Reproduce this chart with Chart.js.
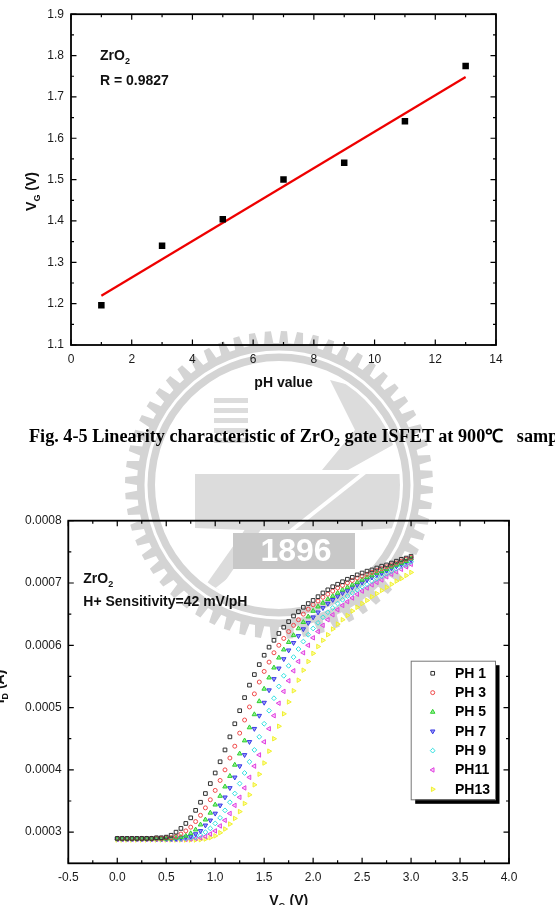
<!DOCTYPE html>
<html>
<head>
<meta charset="utf-8">
<script src="https://cdn.jsdelivr.net/npm/chart.js@4.4.1/dist/chart.umd.min.js"></script>
<style>
  body { margin: 0; background: #fff; width: 555px; height: 905px; overflow: hidden; position: relative; }
  canvas { position: absolute; left: 0; }
  #caption {
    position: absolute; left: 29px; top: 425.5px; white-space: nowrap;
    font: bold 18.2px/20px "Liberation Serif", "Times New Roman", serif; color: #000;
  }
  #caption sub { font-size: 12px; vertical-align: -4px; line-height: 0; }
</style>
</head>
<body>
<canvas id="seal" width="555" height="905" style="top:0"></canvas>
<canvas id="fitChart" width="555" height="400" style="top:0"></canvas>
<div id="caption">Fig. 4-5 Linearity characteristic of ZrO<sub>2</sub> gate ISFET at 900℃&nbsp;&nbsp; sample</div>
<canvas id="idChart" width="555" height="425" style="top:480px"></canvas>
<script>
// ---- top chart: VG vs pH ----
const phValues = [1, 3, 5, 7, 9, 11, 13];
const vgValues = [1.196, 1.340, 1.404, 1.500, 1.541, 1.641, 1.775];
const fitPh = [1, 13];
const fitVg = [1.219, 1.748];

// ---- bottom chart: ID vs VG, currents in uA ----
const vgSweep = [0.00,0.05,0.10,0.15,0.20,0.25,0.30,0.35,0.40,0.45,0.50,0.55,0.60,0.65,0.70,0.75,0.80,0.85,0.90,0.95,
  1.00,1.05,1.10,1.15,1.20,1.25,1.30,1.35,1.40,1.45,1.50,1.55,1.60,1.65,1.70,1.75,1.80,1.85,1.90,1.95,
  2.00,2.05,2.10,2.15,2.20,2.25,2.30,2.35,2.40,2.45,2.50,2.55,2.60,2.65,2.70,2.75,2.80,2.85,2.90,2.95,3.00];
const idPh1 = [290,290,290,290,290,290,290,290,291,291, 292,295,300,306,314,323,335,348,362,378,
  395,413,432,453,474,495,516,536,553,569, 584,597,608,619,629,638,647,654,661,667,
  672,678,684,689,694,698,702,706,709,713, 716,719,721,724,727,729,732,735,738,740, 743];
const idPh3 = [290,290,290,290,290,290,290,290,290,290, 291,291,293,297,302,308,317,327,339,352,
  367,383,400,419,438,459,480,501,522,541, 558,573,588,600,611,622,632,641,650,658,
  665,671,677,682,687,692,696,700,704,708, 711,714,717,720,723,726,729,732,735,738, 741];
const idPh5 = [289.5,289.5,289.5,289.5,289.5,289.5,289.5,289.5,289.5,289.5, 289.5,290,291,292,294,298,304,312,320,331,
  344,358,373,390,408,426,447,468,489,510, 530,548,564,580,593,605,616,627,637,646,
  655,662,668,674,679,684,689,693,697,701, 705,709,712,716,719,722,726,729,732,735, 739];
const idPh7 = [289.5,289.5,289.5,289.5,289.5,289.5,289.5,289.5,289.5,289.5, 289.5,289.5,289.5,291,292,293,297,302,311,319,
  330,343,356,371,388,406,424,445,466,487, 508,528,546,563,578,592,604,615,626,636,
  645,653,660,667,673,679,684,688,693,697, 701,705,709,713,716,720,724,727,730,734, 737];
const idPh9 = [289,289,289,289,289,289,289,289,289,289, 289,289,289,289,290,291,292,295,300,306,
  314,323,335,348,362,378,395,413,432,453, 474,495,515,534,551,567,581,594,606,617,
  627,636,645,653,660,667,673,679,684,689, 694,698,703,707,711,715,719,723,727,730, 734];
const idPh11 = [288.5,288.5,288.5,288.5,288.5,288.5,288.5,288.5,288.5,288.5, 288.5,288.5,288.5,288.5,288.5,289,290,291,293,297,
  302,310,319,330,343,356,371,388,406,424, 445,466,487,507,526,543,559,574,588,600,
  612,622,632,641,649,657,664,670,676,682, 687,692,697,701,705,710,714,718,722,726, 730];
const idPh13 = [287.5,287.5,287.5,287.5,287.5,287.5,287.5,287.5,287.5,287.5, 287.5,287.5,287.5,287.5,287.5,287.5,287.5,288,289,291,
  294,299,305,313,322,333,346,360,376,393, 411,430,450,470,490,509,527,544,560,574,
  587,598,608,617,626,634,641,648,655,661, 667,672,678,683,688,693,698,703,707,712, 717];
const seriesNames = ["PH 1", "PH 3", "PH 5", "PH 7", "PH 9", "PH11", "PH13"];
const seriesData = [idPh1, idPh3, idPh5, idPh7, idPh9, idPh11, idPh13];

const sansFont = '"Liberation Sans", Arial, sans-serif';

// draws text pieces, some as subscripts, from a start x on a baseline
function drawRich(ctx, parts, x, y, size) {
  let cx = x;
  parts.forEach(([txt, sub]) => {
    ctx.font = `bold ${sub ? Math.round(size * 0.62) : size}px ${sansFont}`;
    ctx.fillText(txt, cx, sub ? y + size * 0.3 : y);
    cx += ctx.measureText(txt).width;
  });
}
function richWidth(ctx, parts, size) {
  let w = 0;
  parts.forEach(([txt, sub]) => {
    ctx.font = `bold ${sub ? Math.round(size * 0.62) : size}px ${sansFont}`;
    w += ctx.measureText(txt).width;
  });
  return w;
}

// Origin style frame with inward ticks on all sides
const frameTicks = {
  id: "frameTicks",
  afterDatasetsDraw(chart) {
    const { ctx, chartArea: a, scales } = chart;
    const split = (scale) => {
      const major = scale.ticks.map((t) => t.value);
      const minor = [];
      for (let i = 0; i < major.length - 1; i++) minor.push((major[i] + major[i + 1]) / 2);
      return { major, minor };
    };
    const xt = split(scales.x);
    const yt = split(scales.y);
    ctx.save();
    ctx.strokeStyle = "#000";
    ctx.lineWidth = 1.2;
    ctx.beginPath();
    [[xt.major, 5.5], [xt.minor, 3]].forEach(([vals, len]) => {
      vals.forEach((v) => {
        const px = scales.x.getPixelForValue(v);
        ctx.moveTo(px, a.bottom); ctx.lineTo(px, a.bottom - len);
        ctx.moveTo(px, a.top); ctx.lineTo(px, a.top + len);
      });
    });
    [[yt.major, 5.5], [yt.minor, 3]].forEach(([vals, len]) => {
      vals.forEach((v) => {
        const py = scales.y.getPixelForValue(v);
        ctx.moveTo(a.left, py); ctx.lineTo(a.left + len, py);
        ctx.moveTo(a.right, py); ctx.lineTo(a.right - len, py);
      });
    });
    ctx.stroke();
    ctx.lineWidth = 1.8;
    ctx.strokeRect(a.left, a.top, a.right - a.left, a.bottom - a.top);
    ctx.restore();
  },
};

// free text: notes and subscripted axis titles
const notes = {
  id: "notes",
  afterDraw(chart, args, opts) {
    const ctx = chart.ctx;
    ctx.save();
    ctx.fillStyle = "#111";
    ctx.textBaseline = "alphabetic";
    ctx.textAlign = "left";
    (opts.items || []).forEach((it) => {
      const w = richWidth(ctx, it.parts, it.size);
      if (it.rotate) {
        ctx.save();
        ctx.translate(it.x, it.y);
        ctx.rotate(-Math.PI / 2);
        drawRich(ctx, it.parts, -w / 2, 0, it.size);
        ctx.restore();
      } else {
        const x0 = it.center ? it.x - w / 2 : it.x;
        drawRich(ctx, it.parts, x0, it.y, it.size);
      }
    });
    ctx.restore();
  },
};

// legend box with drop shadow
const shadowLegend = {
  id: "shadowLegend",
  afterDraw(chart, args, opts) {
    if (!opts.box) return;
    const ctx = chart.ctx;
    const b = opts.box;
    ctx.save();
    ctx.fillStyle = "#000";
    ctx.fillRect(b.x + 4.5, b.y + 4.5, b.w, b.h);
    ctx.fillStyle = "#fff";
    ctx.fillRect(b.x, b.y, b.w, b.h);
    ctx.strokeStyle = "#777";
    ctx.lineWidth = 1;
    ctx.strokeRect(b.x + 0.5, b.y + 0.5, b.w, b.h);
    chart.data.datasets.forEach((ds, i) => {
      const y = b.y + opts.firstRow + i * opts.rowGap;
      ctx.strokeStyle = ds.borderColor;
      ctx.fillStyle = ds.backgroundColor;
      ctx.lineWidth = ds.borderWidth;
      Chart.helpers.drawPoint(ctx, { pointStyle: ds.pointStyle, radius: ds.pointRadius, rotation: ds.rotation || 0, borderWidth: ds.borderWidth }, b.x + opts.markX, y);
      ctx.fillStyle = "#000";
      ctx.font = `bold 14px ${sansFont}`;
      ctx.textBaseline = "middle";
      ctx.fillText(ds.label, b.x + opts.textX, y + 0.5);
    });
    ctx.restore();
  },
};

// faint university seal behind both plots
function drawSeal() {
  const ctx = document.getElementById("seal").getContext("2d");
  const cx = 279, cy = 485;
  const teeth = 60;
  const gray = "#d4d4d4";
  ctx.fillStyle = gray;
  ctx.beginPath();
  for (let i = 0; i < teeth; i++) {
    const a0 = (i / teeth) * Math.PI * 2;
    const step = (Math.PI * 2) / teeth;
    const pts = [[a0, 142], [a0 + step * 0.12, 154], [a0 + step * 0.5, 154], [a0 + step * 0.62, 142]];
    pts.forEach(([ang, r], k) => {
      const px = cx + Math.cos(ang) * r, py = cy + Math.sin(ang) * r;
      if (i === 0 && k === 0) ctx.moveTo(px, py); else ctx.lineTo(px, py);
    });
  }
  ctx.closePath();
  ctx.moveTo(cx + 124, cy);
  ctx.arc(cx, cy, 124, 0, Math.PI * 2, true);
  ctx.fill("evenodd");
  ctx.strokeStyle = "#fff";
  ctx.lineWidth = 3;
  ctx.beginPath();
  ctx.arc(cx, cy, 133, 0, Math.PI * 2);
  ctx.stroke();

  // emblem inside the ring
  ctx.save();
  ctx.beginPath();
  ctx.arc(cx, cy, 121, 0, Math.PI * 2);
  ctx.clip();
  ctx.fillStyle = "#dcdcdc";
  [398, 408, 418, 428, 438].forEach((y) => ctx.fillRect(214, y, 34, 5));
  ctx.beginPath();
  ctx.moveTo(330, 380); ctx.lineTo(400, 398); ctx.lineTo(402, 440);
  ctx.lineTo(348, 470); ctx.lineTo(322, 470); ctx.lineTo(355, 430);
  ctx.closePath();
  ctx.fill();
  ctx.beginPath();
  ctx.moveTo(195, 474); ctx.lineTo(402, 474); ctx.lineTo(402, 528);
  ctx.lineTo(360, 530); ctx.lineTo(245, 530); ctx.lineTo(195, 528);
  ctx.closePath();
  ctx.fill();
  ctx.beginPath();
  ctx.moveTo(246, 528); ctx.lineTo(262, 528); ctx.lineTo(212, 600); ctx.lineTo(198, 596);
  ctx.closePath();
  ctx.fill();
  ctx.strokeStyle = "#fff";
  ctx.lineWidth = 4;
  ctx.beginPath();
  ctx.moveTo(378, 462); ctx.lineTo(206, 598);
  ctx.stroke();
  ctx.restore();

  ctx.fillStyle = "#c8c8c8";
  ctx.fillRect(233, 533, 122, 36);
  ctx.fillStyle = "#fff";
  ctx.font = `bold 32px ${sansFont}`;
  ctx.textAlign = "center";
  ctx.textBaseline = "middle";
  ctx.fillText("1896", 296, 552);
}
drawSeal();

const tickFont = { family: sansFont, size: 12 };

new Chart(document.getElementById("fitChart"), {
  type: "scatter",
  data: {
    datasets: [
      {
        label: "VG",
        data: phValues.map((p, i) => ({ x: p, y: vgValues[i] })),
        pointStyle: "rect",
        pointRadius: 4.6,
        backgroundColor: "#000",
        borderColor: "#000",
        borderWidth: 0,
      },
      {
        label: "fit",
        data: fitPh.map((p, i) => ({ x: p, y: fitVg[i] })),
        showLine: true,
        pointRadius: 0,
        borderColor: "#ee0000",
        borderWidth: 2.2,
      },
    ],
  },
  options: {
    responsive: false,
    animation: false,
    devicePixelRatio: 1,
    layout: { padding: { top: 10, right: 59, left: 0, bottom: 0 } },
    plugins: {
      legend: { display: false },
      tooltip: { enabled: false },
      notes: {
        items: [
          { parts: [["ZrO"], ["2", true]], x: 100, y: 59.5, size: 14 },
          { parts: [["R = 0.9827"]], x: 100, y: 84.5, size: 14 },
          { parts: [["V"], ["G", true], [" (V)"]], x: 36, y: 191.5, size: 14, rotate: true },
        ],
      },
    },
    scales: {
      x: {
        type: "linear",
        min: 0,
        max: 14,
        grid: { display: false, drawTicks: false },
        border: { display: false },
        ticks: { stepSize: 2, padding: 7.5, color: "#1a1a1a", font: tickFont, maxRotation: 0 },
        title: { display: true, text: "pH value", color: "#111", font: { family: sansFont, size: 14, weight: "bold" }, padding: { top: 0, bottom: 8.6 } },
        afterFit: (s) => { s.height = 55; },
      },
      y: {
        min: 1.1,
        max: 1.9,
        grid: { display: false, drawTicks: false },
        border: { display: false },
        ticks: { stepSize: 0.1, padding: 7, color: "#1a1a1a", font: tickFont, callback: (v) => v.toFixed(1) },
        afterFit: (s) => { s.width = 71; },
      },
    },
  },
  plugins: [frameTicks, notes],
});

const seriesStyle = [
  { pointStyle: "rect", pointRadius: 2.6, borderColor: "#303030", backgroundColor: "rgba(255,255,255,0)" },
  { pointStyle: "circle", pointRadius: 2, borderColor: "#f04848", backgroundColor: "rgba(255,255,255,0)" },
  { pointStyle: "triangle", pointRadius: 2.6, borderColor: "#2ed02e", backgroundColor: "rgba(80,230,80,0.6)" },
  { pointStyle: "triangle", pointRadius: 2.6, rotation: 180, borderColor: "#3a3ae6", backgroundColor: "rgba(90,90,240,0.6)" },
  { pointStyle: "rectRot", pointRadius: 2.4, borderColor: "#2fe0e0", backgroundColor: "rgba(255,255,255,0)" },
  { pointStyle: "triangle", pointRadius: 2.6, rotation: 270, borderColor: "#e040e0", backgroundColor: "rgba(240,120,240,0.4)" },
  { pointStyle: "triangle", pointRadius: 2.6, rotation: 90, borderColor: "#f0f030", backgroundColor: "rgba(250,250,90,0.6)" },
];

new Chart(document.getElementById("idChart"), {
  type: "scatter",
  data: {
    datasets: seriesData.map((vals, k) => ({
      label: seriesNames[k],
      data: vals.map((v, i) => ({ x: vgSweep[i], y: v * 1e-6 })),
      pointStyle: seriesStyle[k].pointStyle,
      pointRadius: seriesStyle[k].pointRadius,
      rotation: seriesStyle[k].rotation || 0,
      borderColor: seriesStyle[k].borderColor,
      backgroundColor: seriesStyle[k].backgroundColor,
      borderWidth: 1,
    })),
  },
  options: {
    responsive: false,
    animation: false,
    devicePixelRatio: 1,
    layout: { padding: { top: 40.7, right: 46, left: 0, bottom: 0 } },
    plugins: {
      legend: { display: false },
      tooltip: { enabled: false },
      shadowLegend: { box: { x: 410.7, y: 180.7, w: 84.3, h: 138.6 }, firstRow: 12.6, rowGap: 19.33, markX: 22, textX: 44.3 },
      notes: {
        items: [
          { parts: [["ZrO"], ["2", true]], x: 83.3, y: 102.7, size: 14 },
          { parts: [["H+ Sensitivity=42 mV/pH"]], x: 83.3, y: 126.3, size: 14 },
          { parts: [["V"], ["G", true], [" (V)"]], x: 288.7, y: 425, size: 14, center: true },
          { parts: [["I"], ["D", true], [" (A)"]], x: 4, y: 206.5, size: 14, rotate: true },
        ],
      },
    },
    scales: {
      x: {
        type: "linear",
        min: -0.5,
        max: 4.0,
        grid: { display: false, drawTicks: false },
        border: { display: false },
        ticks: { stepSize: 0.5, padding: 7.5, color: "#1a1a1a", font: tickFont, maxRotation: 0, callback: (v) => v.toFixed(1) },
        afterFit: (s) => { s.height = 41.7; },
      },
      y: {
        min: 0.00025,
        max: 0.0008,
        grid: { display: false, drawTicks: false },
        border: { display: false },
        ticks: { padding: 6.6, color: "#1a1a1a", font: tickFont, callback: (v) => v.toFixed(4) },
        afterBuildTicks: (s) => {
          s.ticks = [0.0003, 0.0004, 0.0005, 0.0006, 0.0007, 0.0008].map((v) => ({ value: v }));
        },
        afterFit: (s) => { s.width = 68.3; },
      },
    },
  },
  plugins: [frameTicks, notes, shadowLegend],
});
</script>
</body>
</html>
